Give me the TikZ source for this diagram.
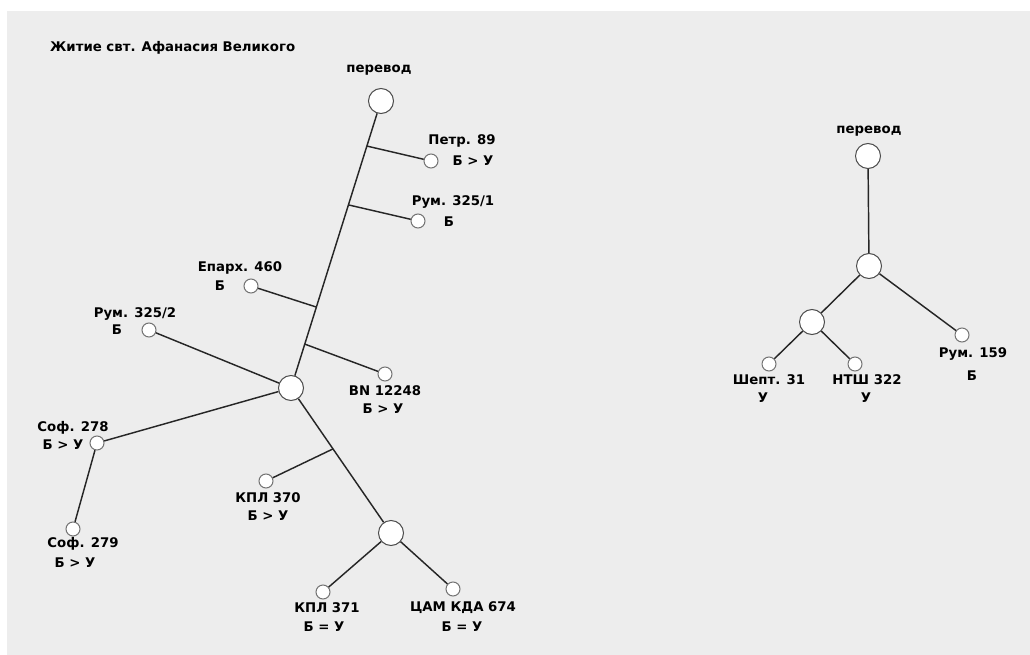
\documentclass[tikz,border=0pt]{standalone}
\usepackage{fontspec}
\setmainfont{DejaVu Sans}
\usetikzlibrary{calc}
\begin{document}
\begin{tikzpicture}[x=1pt,y=-1pt,
  hub/.style={circle,draw=black!70,fill=white,line width=1pt,minimum size=25pt,inner sep=0pt},
  leaf/.style={circle,draw=black!55,fill=white,line width=1pt,minimum size=14pt,inner sep=0pt},
  txt/.style={font=\bfseries\fontsize{13.3}{15}\selectfont,inner sep=0pt},
  link/.style={draw=black!85,line width=1.45pt}]
\useasboundingbox (0,0) rectangle (1030,655);
\fill[white] (0,0) rectangle (1030,655);
\fill[black!7] (7,11) rectangle (1030,655);
\node[txt,anchor=west] (title) at (50,48) {Житие свт. Афанасия Великого};
\node[hub] (rootL) at (381,101) {};
\node[hub] (midL) at (291,388) {};
\node[hub] (lowL) at (391,533) {};
\coordinate (j1) at ($(rootL)!0.157!(midL)$);
\coordinate (j2) at ($(rootL)!0.362!(midL)$);
\coordinate (j3) at ($(rootL)!0.718!(midL)$);
\coordinate (j4) at ($(rootL)!0.847!(midL)$);
\coordinate (j5) at ($(midL)!0.42!(lowL)$);
\node[leaf] (petr) at (431,161) {};
\node[leaf] (rum1) at (418,221) {};
\node[leaf] (eparh) at (251,286) {};
\node[leaf] (rum2) at (149,330) {};
\node[leaf] (bn) at (385,374) {};
\node[leaf] (sof8) at (97,443) {};
\node[leaf] (sof9) at (73,529) {};
\node[leaf] (kpl0) at (266,481) {};
\node[leaf] (kpl1) at (323,592) {};
\node[leaf] (cam) at (453,589) {};
\node[txt] (rootL-t) at (379,70) {перевод};
\node[txt] (petr-t) at (462,141) {Петр. 89};
\node[txt] (petr-r) at (473,161) {Б > У};
\node[txt] (rum1-t) at (453,202) {Рум. 325/1};
\node[txt] (rum1-r) at (449,222) {Б};
\node[txt] (eparh-t) at (240,268) {Епарх. 460};
\node[txt] (eparh-r) at (220,286) {Б};
\node[txt] (rum2-t) at (135,314) {Рум. 325/2};
\node[txt] (rum2-r) at (117,330) {Б};
\node[txt] (bn-t) at (385,391) {BN 12248};
\node[txt] (bn-r) at (383,409) {Б > У};
\node[txt] (sof8-t) at (73,428) {Соф. 278};
\node[txt] (sof8-r) at (63,445) {Б > У};
\node[txt] (sof9-t) at (83,544) {Соф. 279};
\node[txt] (sof9-r) at (75,563) {Б > У};
\node[txt] (kpl0-t) at (268,498) {КПЛ 370};
\node[txt] (kpl0-r) at (268,516) {Б > У};
\node[txt] (kpl1-t) at (327,608) {КПЛ 371};
\node[txt] (kpl1-r) at (324,627) {Б = У};
\node[txt] (cam-t) at (463,608) {ЦАМ КДА 674};
\node[txt] (cam-r) at (462,627) {Б = У};
\draw[link] (rootL) -- (j1) -- (j2) -- (j3) -- (j4) -- (midL);
\draw[link] (j1) -- (petr);
\draw[link] (j2) -- (rum1);
\draw[link] (j3) -- (eparh);
\draw[link] (j4) -- (bn);
\draw[link] (midL) -- (rum2);
\draw[link] (midL) -- (sof8);
\draw[link] (sof8) -- (sof9);
\draw[link] (midL) -- (j5) -- (lowL);
\draw[link] (j5) -- (kpl0);
\draw[link] (lowL) -- (kpl1);
\draw[link] (lowL) -- (cam);
\node[hub] (rootR) at (868,156) {};
\node[hub] (midR) at (869,266) {};
\node[hub] (subR) at (812,322) {};
\node[leaf] (shept) at (769,364) {};
\node[leaf] (ntsh) at (855,364) {};
\node[leaf] (rum159) at (962,335) {};
\node[txt] (rootR-t) at (869,131) {перевод};
\node[txt] (shept-t) at (769,380) {Шепт. 31};
\node[txt] (shept-r) at (763,398) {У};
\node[txt] (ntsh-t) at (867,380) {НТШ 322};
\node[txt] (ntsh-r) at (866,398) {У};
\node[txt] (rum159-t) at (973,354) {Рум. 159};
\node[txt] (rum159-r) at (972,376) {Б};
\draw[link] (rootR) -- (midR);
\draw[link] (midR) -- (subR);
\draw[link] (midR) -- (rum159);
\draw[link] (subR) -- (shept);
\draw[link] (subR) -- (ntsh);
\end{tikzpicture}
\end{document}
